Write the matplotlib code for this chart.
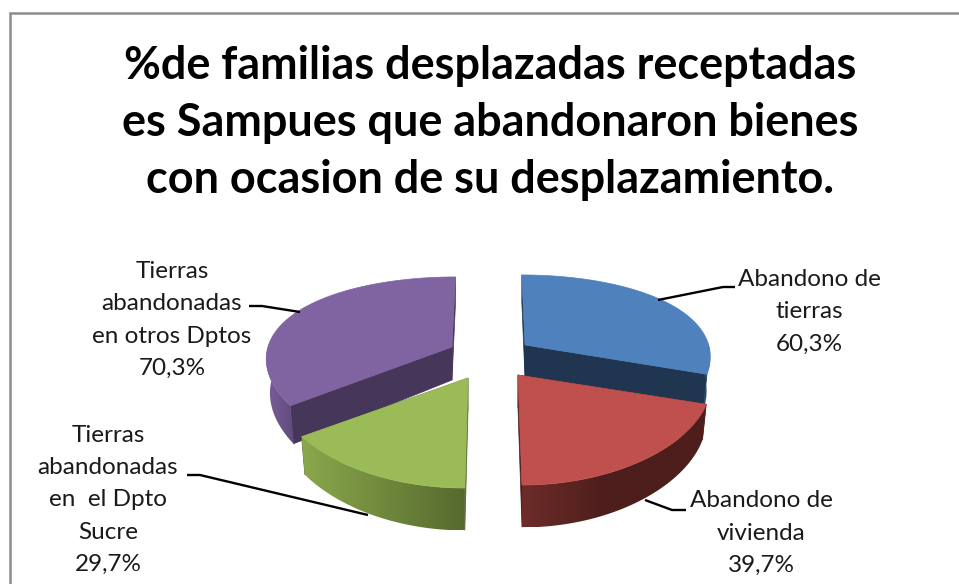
import numpy as np
import matplotlib
matplotlib.use('Agg')
import matplotlib.pyplot as plt
from matplotlib.patches import Polygon

categories = ['Abandono de\ntierras', 'Abandono de\nvivienda',
              'Tierras\nabandonadas\nen  el Dpto\nSucre', 'Tierras\nabandonadas\nen otros Dptos']
values = [60.3, 39.7, 29.7, 70.3]
title = '%de familias desplazadas receptadas\nes Sampues que abandonaron bienes\ncon ocasion de su desplazamiento.'

# apex of every exploded slice, in pixels
apex = [(525, 345), (518, 375), (468, 378), (452, 347)]
top_col = ['#4f81bd', '#c0504d', '#9bbb59', '#8064a2']
cut_col = ['#1f3550', '#4f1f1d', '#5a6e30', '#46365a']
wall_l = ['#2a4770', '#6e2c29', '#8aa84c', '#7a5f9c']
wall_r = ['#2a4770', '#4d1e1c', '#56692e', '#5f4a7c']
grad_span = [1, 0.45, 1, 1]
# leader lines and label anchors
leaders = [[(658, 300), (723, 287), (735, 287)], [(645, 500), (672, 510), (686, 510)],
           [(368, 515), (200, 475), (187, 475)], [(300, 312), (262, 306), (249, 306)]]
label_pos = [(809, 312), (761, 533), (108, 500), (172, 320)]

RX, RY, K, DEPTH = 187, 85.6, 0.222, 33
CX, CY = 490, 360

plt.rcParams['font.family'] = ['Lato', 'DejaVu Sans']
fig = plt.figure(figsize=(9.59, 5.84), dpi=100)
ax = fig.add_axes([0, 0, 1, 1])
ax.axis('off')


def proj(c, th, r=1.0, z=0.0):
    # th clockwise from 12 o'clock, simple perspective towards the viewer
    X = r * np.sin(th)
    Y = -r * np.cos(th)
    s = 1 / (1 - K * Y)
    near = 1 + (c[1] - CY) * 0.0012
    shrink = 1 - 0.02 * z / DEPTH
    x = c[0] + 0.5 * (c[0] - CX) * (s - 1) + RX * near * X * s ** 0.5 * shrink
    return np.column_stack([x, c[1] + RY * Y * s + z * s])


ends = np.cumsum([0] + values) / sum(values) * 2 * np.pi
zo = 1


def draw_slice(i):
    global zo
    c = apex[i]
    th = np.linspace(ends[i], ends[i + 1], 120)
    top = proj(c, th)
    bot = proj(c, th, z=DEPTH)
    zero = np.array([0.0])
    a_top = proj(c, zero, r=0)
    a_bot = proj(c, zero, r=0, z=DEPTH)
    # cut faces
    for t in (th[0], th[-1]):
        p_top = proj(c, np.array([t]))
        p_bot = proj(c, np.array([t]), z=DEPTH)
        ax.add_patch(Polygon(np.vstack([a_top, p_top, p_bot, a_bot]), fc=cut_col[i], ec=cut_col[i],
                             lw=0.5, zorder=zo))
    zo += 1
    # outer wall, only the part facing the viewer, gradient left to right
    vis = np.cos(th) < 0.05
    if vis.sum() > 1:
        outline = np.vstack([top[vis], bot[vis][::-1]])
        x0, x1 = outline[:, 0].min(), outline[:, 0].max()
        y0, y1 = outline[:, 1].min(), outline[:, 1].max()
        t = np.clip(np.linspace(0, 1, 256) / grad_span[i], 0, 1)[None, :, None]
        a = np.array(matplotlib.colors.to_rgb(wall_l[i]))[None, None, :]
        b = np.array(matplotlib.colors.to_rgb(wall_r[i]))[None, None, :]
        im = ax.imshow(a + (b - a) * t, extent=(x0, x1, y1, y0), aspect='auto', zorder=zo)
        clip = Polygon(outline, transform=ax.transData, fc='none', ec='none')
        ax.add_patch(clip)
        im.set_clip_path(clip)
    zo += 1
    ax.add_patch(Polygon(np.vstack([a_top, top]), fc=top_col[i], ec=top_col[i], lw=0.5, zorder=zo))
    zo += 1


for i in [3, 0, 2, 1]:
    draw_slice(i)

for k, pts in enumerate(leaders):
    xs, ys = zip(*pts)
    ax.plot(xs, ys, color='black', lw=1.7, zorder=zo, solid_capstyle='butt')

for i, cat in enumerate(categories):
    txt = cat + '\n' + f'{values[i]:.1f}%'.replace('.', ',')
    ax.text(label_pos[i][0], label_pos[i][1], txt, ha='center', va='center', fontsize=17.5,
            color='#1a1a1a', linespacing=1.66, zorder=zo + 1)

ax.text(490, 123, title, ha='center', va='center', fontsize=32.4, fontweight='bold', color='black',
        linespacing=1.44, zorder=zo + 1)

# chart border, only left and top are in the picture
ax.plot([9.5, 9.5, 959], [584, 12.5, 12.5], color='#8c8c8c', lw=1.8, solid_joinstyle='miter', zorder=zo + 1)

ax.set_xlim(0, 959)
ax.set_ylim(584, 0)

fig.savefig('out.png', dpi=100, facecolor='white')
